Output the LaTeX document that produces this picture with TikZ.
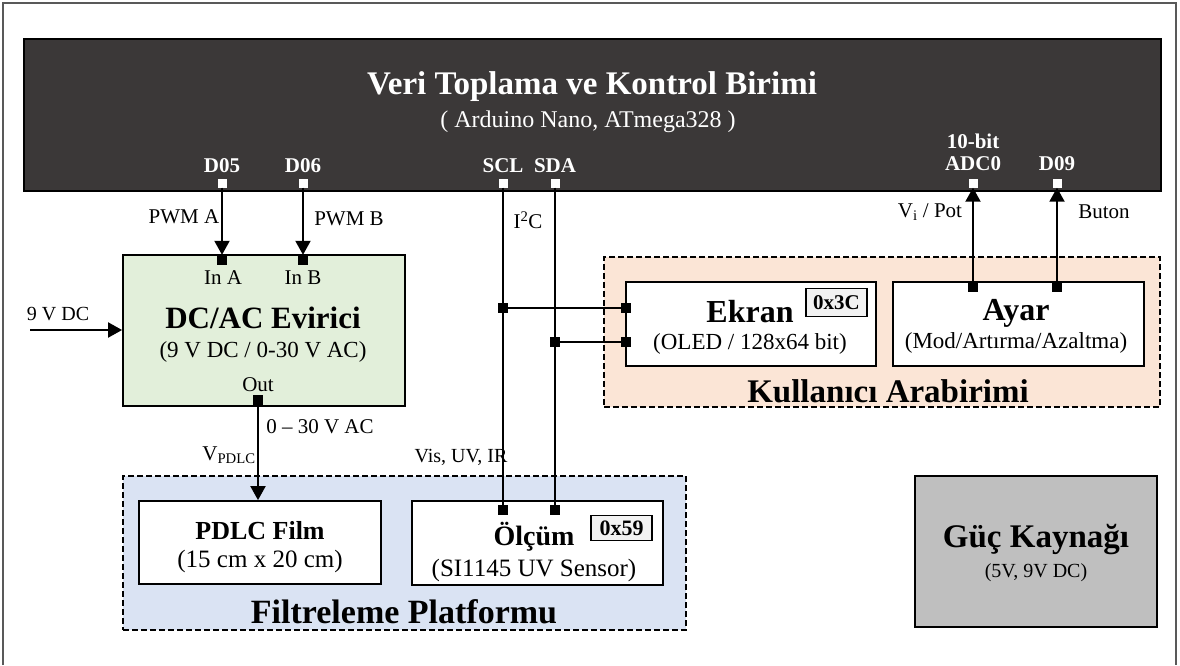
\documentclass[tikz,border=0pt]{standalone}
\usepackage{fontspec}
\setmainfont{Liberation Serif}
\usetikzlibrary{arrows.meta}
\definecolor{darkbox}{HTML}{3B3838}
\definecolor{evgreen}{HTML}{E2EFDA}
\definecolor{uipeach}{HTML}{FBE5D6}
\definecolor{filblue}{HTML}{DAE3F3}
\definecolor{pwrgray}{HTML}{BFBFBF}
\definecolor{addrgray}{HTML}{F2F2F2}
\definecolor{framegray}{HTML}{595959}
\newcommand{\tsz}[1]{\fontsize{#1}{#1}\selectfont}
\begin{document}
\begin{tikzpicture}[x=1pt,y=-1pt,
    box/.style 2 args={rectangle,draw=black,line width=1.8pt,minimum width=#1,minimum height=#2,inner sep=0pt},
    group/.style 2 args={box={#1}{#2},dash pattern=on 6pt off 3pt},
    pin/.style={rectangle,fill=white,minimum size=9pt,inner sep=0pt},
    port/.style={rectangle,fill=black,minimum size=10pt,inner sep=0pt},
    pinlabel/.style={text=white,font=\tsz{21}\bfseries,inner sep=0pt},
    lbl/.style={font=\tsz{21},inner sep=0pt},
    wire/.style={line width=2pt},
    arr/.style={line width=2pt,-{Triangle[width=15pt,length=14pt]}}]
    \useasboundingbox (0,0) rectangle (1180,665);
    \draw[framegray,line width=2pt] (3,665) -- (3,3) -- (1176,3) -- (1176,665);

    % Veri toplama birimi
    \node[box={1137pt}{152pt},fill=darkbox] at (592.5,115) (mcu) {};
    \node[text=white,font=\tsz{33}\bfseries] at (592,87) (mcutitle) {Veri Toplama ve Kontrol Birimi};
    \node[text=white,font=\tsz{24}] at (588,122) (mcusub) {( Arduino Nano, ATmega328 )};
    \node[pin] at (222,183) (d05) {};
    \node[pin] at (303,183) (d06) {};
    \node[pin] at (503,183) (scl) {};
    \node[pin] at (555,183) (sda) {};
    \node[pin] at (973,183) (adc) {};
    \node[pin] at (1057,183) (d09) {};
    \node[pinlabel] at (222,166) {D05};
    \node[pinlabel] at (303,166) {D06};
    \node[pinlabel] at (503,166) {SCL};
    \node[pinlabel] at (555,166) {SDA};
    \node[pinlabel] at (973,164) {ADC0};
    \node[pinlabel] at (973,141) {10-bit};
    \node[pinlabel] at (1057,164) {D09};

    % Evirici
    \node[box={282pt}{151pt},fill=evgreen] at (264,330.5) (evirici) {};
    \node[font=\tsz{31}\bfseries] at (263,318) {DC/AC Evirici};
    \node[font=\tsz{23}] at (263,352) {(9 V DC / 0-30 V AC)};
    \node[lbl] at (223,278) {In A};
    \node[lbl] at (303,278) {In B};
    \node[lbl] at (258,385) {Out};
    \node[port] at (222,260) (ina) {};
    \node[port] at (303,260) (inb) {};
    \node[port] at (258,400) (out) {};
    \coordinate (dcin) at (30,330);
    \node[font=\tsz{20},inner sep=0pt] at (58,314) {9 V DC};

    % Kullanici arabirimi
    \node[group={556pt}{150pt},fill=uipeach] at (882,332) (ui) {};
    \node[box={250pt}{84pt},fill=white] at (751,324) (ekran) {};
    \node[box={251pt}{84pt},fill=white] at (1018.5,324) (ayar) {};
    \node[box={61pt}{28pt},fill=addrgray,line width=1.2pt] at (836.5,302.5) (addr3c) {\tsz{21}\bfseries 0x3C};
    \node[font=\tsz{32}\bfseries] at (750,312) {Ekran};
    \node[font=\tsz{23}] at (750,344) {(OLED / 128x64 bit)};
    \node[font=\tsz{32}\bfseries] at (1016,313) {Ayar};
    \node[font=\tsz{23}] at (1016,343) {(Mod/Artırma/Azaltma)};
    \node[font=\tsz{33}\bfseries] at (888,391) {Kullanıcı Arabirimi};
    \node[port] at (626,308) (ekrA) {};
    \node[port] at (626,342) (ekrB) {};
    \node[port] at (973,287) (ayA) {};
    \node[port] at (1057,287) (ayB) {};

    % Filtreleme platformu
    \node[group={563pt}{154pt},fill=filblue] at (404.5,553) (filt) {};
    \node[box={242pt}{83pt},fill=white] at (260,542.5) (pdlc) {};
    \node[box={251pt}{84pt},fill=white] at (537.5,543) (olcum) {};
    \node[box={61pt}{25pt},fill=addrgray,line width=1.2pt] at (621.5,528) (addr59) {\tsz{22}\bfseries 0x59};
    \node[font=\tsz{26}\bfseries] at (260,531) {PDLC Film};
    \node[font=\tsz{25}] at (260,561) {(15 cm x 20 cm)};
    \node[font=\tsz{28}\bfseries] at (534,537) {Ölçüm};
    \node[font=\tsz{25}] at (534,570) {(SI1145 UV Sensor)};
    \node[font=\tsz{34}\bfseries] at (404,612) {Filtreleme Platformu};
    \node[port] at (503,510) (olcA) {};
    \node[port] at (555,510) (olcB) {};

    % Guc kaynagi
    \node[box={242pt}{151pt},fill=pwrgray] at (1036,551.5) (guc) {};
    \node[font=\tsz{33}\bfseries] at (1036,540) {Güç Kaynağı};
    \node[font=\tsz{20}] at (1036,573) {(5V, 9V DC)};

    % I2C hatti
    \node[port] at (503,308) (sclj) {};
    \node[port] at (555,342) (sdaj) {};
    \draw[wire] (scl) -- (sclj) -- (olcA);
    \draw[wire] (sda) -- (sdaj) -- (olcB);
    \draw[wire] (sclj) -- (ekrA);
    \draw[wire] (sdaj) -- (ekrB);

    % sinyaller
    \path[arr] (d05) edge (ina)
        (d06) edge (inb)
        (ayA) edge (adc)
        (ayB) edge (d09)
        (dcin) edge (dcin -| evirici.west)
        (out) edge (out |- pdlc.north);

    \path[every node/.style={lbl}]
        (184,217) node {PWM A}
        (349,219) node {PWM B}
        (528,220) node {I\textsuperscript{2}C}
        (930,212) node {V\textsubscript{i} / Pot}
        (1104,212) node {Buton}
        (320,427) node {0 – 30 V AC}
        (229,455) node {V\textsubscript{PDLC}}
        (461,457) node[font=\tsz{20}] {Vis, UV, IR};
\end{tikzpicture}
\end{document}
